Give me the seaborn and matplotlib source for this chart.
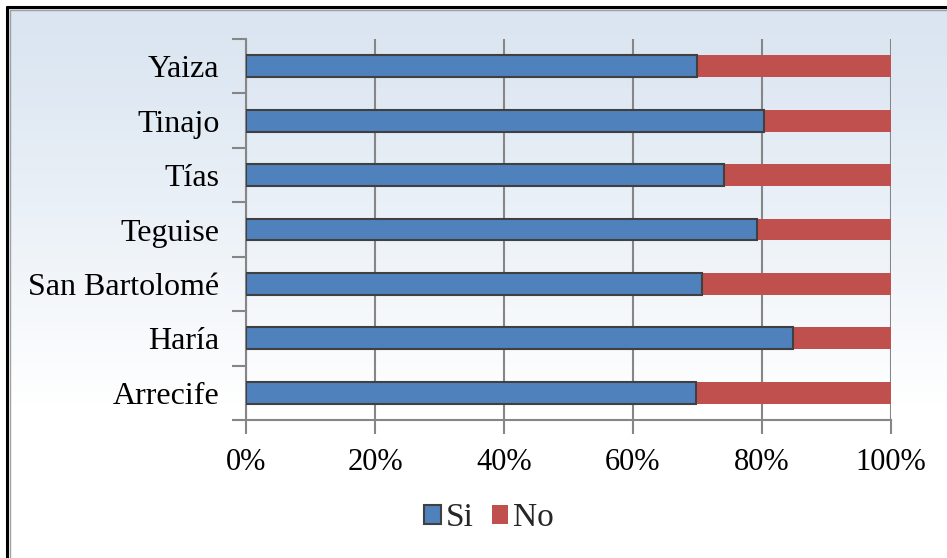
import numpy as np
import pandas as pd
import seaborn as sns
import matplotlib.pyplot as plt
from matplotlib.lines import Line2D
from matplotlib.patches import Patch
from matplotlib.ticker import FixedLocator, FuncFormatter

municipios = ["Yaiza", "Tinajo", "Tías", "Teguise", "San Bartolomé", "Haría", "Arrecife"]
si_pct = [69.9, 80.3, 74.1, 79.2, 70.7, 84.8, 69.8]
no_pct = [30.1, 19.7, 25.9, 20.8, 29.3, 15.2, 30.2]
x_ticks = [0, 20, 40, 60, 80, 100]

color_si = "#4F81BD"
color_no = "#C0504D"
grid_gray = "#868686"

sns.set_theme(style="white")
plt.rcParams['font.family'] = ['Liberation Serif', 'DejaVu Serif']

df = pd.DataFrame({"municipio": municipios, "Si": si_pct, "No": no_pct})
df["total"] = df["Si"] + df["No"]

W, H = 947, 558
fig = plt.figure(figsize=(W / 100, H / 100), dpi=100)

# background gradient of the chart area (light blue at top fading to white)
bg = fig.add_axes([0, 0, 1, 1], zorder=-10)
bg.set_axis_off()
rows = np.linspace(0, 1, 300)[:, None]
fade = np.clip(rows / 0.72, 0, 1) ** 1.2
top_c = np.array([0.855, 0.898, 0.945])
img = top_c + (1 - top_c) * fade[..., None]
img = np.repeat(img, 2, axis=1)
bg.imshow(img, extent=[8 / W, 1, 0, 1 - 8 / H], aspect="auto", origin="upper")
bg.set_xlim(0, 1)
bg.set_ylim(0, 1)

# outer frame (only top and left edges are inside the picture)
fig.add_artist(Line2D([7 / W, 1], [1 - 7 / H, 1 - 7 / H], color="black", lw=2.2))
fig.add_artist(Line2D([7 / W, 7 / W], [0, 1 - 7 / H], color="black", lw=2.2))
fig.add_artist(Line2D([9.5 / W, 1], [1 - 9.5 / H, 1 - 9.5 / H], color="#A0A0A0", lw=1))
fig.add_artist(Line2D([9.5 / W, 9.5 / W], [0, 1 - 9.5 / H], color="#A0A0A0", lw=1))

ax = fig.add_axes([246 / W, 1 - 420 / H, 645 / W, 381 / H])
ax.patch.set_alpha(0)

sns.barplot(data=df, y="municipio", x="total", orient="h", color=color_no,
            width=0.4, edgecolor="none", saturation=1, ax=ax, zorder=2)
sns.barplot(data=df, y="municipio", x="Si", orient="h", color=color_si,
            width=0.4, edgecolor="#404040", linewidth=1.5, saturation=1,
            ax=ax, zorder=3)

ax.set_xlim(0, 100)
ax.set_ylim(len(municipios) - 0.5, -0.5)
ax.set_xlabel("")
ax.set_ylabel("")

ax.xaxis.set_major_locator(FixedLocator(x_ticks))
ax.xaxis.set_major_formatter(FuncFormatter(lambda v, p: f"{v:.0f}%"))
ax.grid(axis="x", color=grid_gray, lw=1.5, zorder=1)
ax.set_axisbelow(True)

ax.yaxis.set_minor_locator(FixedLocator(np.arange(-0.5, len(municipios), 1.0)))
ax.tick_params(axis="y", which="major", length=0, pad=19, labelsize=23,
               labelcolor="black")
ax.tick_params(axis="y", which="minor", length=10, width=1.5, color=grid_gray,
               left=True)
ax.tick_params(axis="x", which="major", length=10, width=1.5, color=grid_gray,
               bottom=True, pad=10, labelsize=22, labelcolor="black")

for side in ["top", "right"]:
    ax.spines[side].set_visible(False)
for side in ["left", "bottom"]:
    ax.spines[side].set_color(grid_gray)
    ax.spines[side].set_linewidth(1.5)

handles = [Patch(facecolor=color_si, edgecolor="#404040", linewidth=1.5, label="Si"),
           Patch(facecolor=color_no, edgecolor="none", label="No")]
fig.legend(handles=handles, loc="center", bbox_to_anchor=(489 / W, 1 - 518 / H),
           ncol=2, frameon=False, fontsize=24, handlelength=0.5,
           handleheight=0.5, handletextpad=0.15, columnspacing=0.55)

fig.savefig("out.png", dpi=100)
